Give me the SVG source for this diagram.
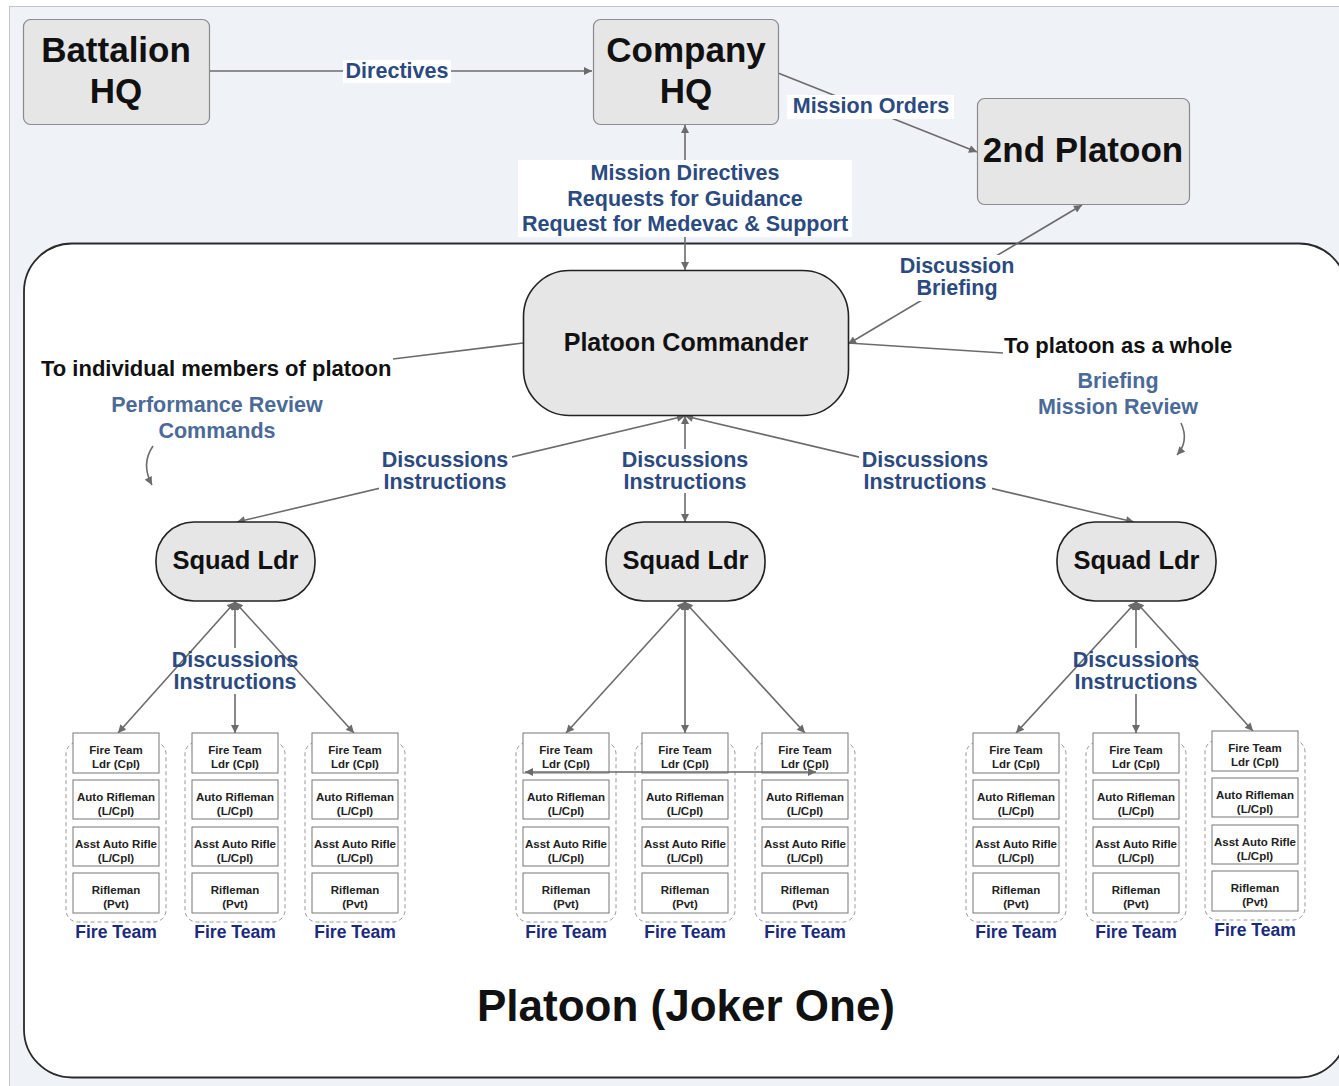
<svg xmlns="http://www.w3.org/2000/svg" width="1339" height="1086" viewBox="0 0 1339 1086">
  <defs>
    <marker id="arr" viewBox="0 0 10 10" refX="10" refY="5" markerWidth="10" markerHeight="8" markerUnits="userSpaceOnUse" orient="auto-start-reverse">
      <path d="M0,0 L10,5 L0,10 z" fill="#6b6b6b"/>
    </marker>
    <style>
      .conn { fill: none; stroke: #6b6b6b; stroke-width: 1.6; }
      .hq { fill: #e6e6e6; stroke: #8a8a8a; stroke-width: 1.2; }
      .core { fill: #e6e6e6; stroke: #222; stroke-width: 1.6; }
      .big { font-family: "Liberation Sans", Arial, sans-serif; font-weight: bold; fill: #111; text-anchor: middle; }
      .lbl { font-family: "Liberation Sans", Arial, sans-serif; font-weight: bold; font-size: 21.5px; fill: #2b4a7f; text-anchor: middle; }
      .lbl2 { font-family: "Liberation Sans", Arial, sans-serif; font-weight: bold; font-size: 21.5px; fill: #4b6a98; text-anchor: middle; }
      .note { font-family: "Liberation Sans", Arial, sans-serif; font-weight: bold; font-size: 22px; fill: #111; }
      .cell { fill: #fff; stroke: #777; stroke-width: 1; }
      .ct { font-family: "Liberation Sans", Arial, sans-serif; font-weight: bold; font-size: 11.5px; fill: #222; text-anchor: middle; }
      .ftbox { fill: none; stroke: #999; stroke-width: 1; stroke-dasharray: 4 3; }
      .ftl { font-family: "Liberation Sans", Arial, sans-serif; font-weight: bold; font-size: 17.5px; fill: #1b2a7e; text-anchor: middle; }
      .bg { fill: #ffffff; }
    </style>
    <!-- one fire team: four member cells inside a dashed outline -->
    <g id="fireteam">
      <rect class="ftbox" x="-50" y="742" width="100" height="180" rx="12"/>
      <rect class="cell" x="-43" y="733" width="86" height="40"/>
      <text class="ct" x="0" y="754">Fire Team</text>
      <text class="ct" x="0" y="768">Ldr (Cpl)</text>
      <rect class="cell" x="-43" y="780" width="86" height="39"/>
      <text class="ct" x="0" y="801">Auto Rifleman</text>
      <text class="ct" x="0" y="815">(L/Cpl)</text>
      <rect class="cell" x="-43" y="827" width="86" height="39"/>
      <text class="ct" x="0" y="848">Asst Auto Rifle</text>
      <text class="ct" x="0" y="862">(L/Cpl)</text>
      <rect class="cell" x="-43" y="873" width="86" height="40"/>
      <text class="ct" x="0" y="894">Rifleman</text>
      <text class="ct" x="0" y="908">(Pvt)</text>
      <text class="ftl" x="0" y="938">Fire Team</text>
    </g>
  </defs>

  <!-- page -->
  <rect x="0" y="0" width="1339" height="1086" fill="#ffffff"/>
  <rect x="9.5" y="6.5" width="1340" height="1090" fill="#eff3f8" stroke="#c2c6cc" stroke-width="1"/>

  <!-- platoon frame -->
  <g id="platoon-frame">
    <rect x="24" y="243.5" width="1323" height="834" rx="48" fill="#ffffff" stroke="#2a2a2a" stroke-width="1.8"/>
    <text class="big" x="686" y="1021" font-size="44">Platoon (Joker One)</text>
  </g>

  <!-- connectors -->
  <g id="connectors">
    <line class="conn" x1="209" y1="71" x2="592" y2="71" marker-end="url(#arr)"/>
    <line class="conn" x1="778" y1="73" x2="977" y2="152" marker-end="url(#arr)"/>
    <line class="conn" x1="685" y1="270" x2="685" y2="125" marker-start="url(#arr)" marker-end="url(#arr)"/>
    <line class="conn" x1="848" y1="344" x2="1082" y2="205" marker-start="url(#arr)" marker-end="url(#arr)"/>
    <line class="conn" x1="848" y1="343" x2="1003" y2="353"/>
    <line class="conn" x1="523" y1="343" x2="393" y2="359"/>
    <path class="conn" d="M1181,423 C1187,436 1185,446 1177,455" marker-end="url(#arr)"/>
    <path class="conn" d="M153,446 C144,459 145,472 152,485" marker-end="url(#arr)"/>
    <!-- commander to squad leaders -->
    <line class="conn" x1="685" y1="416" x2="237" y2="522" marker-start="url(#arr)" marker-end="url(#arr)"/>
    <line class="conn" x1="685" y1="416" x2="685" y2="522" marker-start="url(#arr)" marker-end="url(#arr)"/>
    <line class="conn" x1="685" y1="416" x2="1134" y2="522" marker-start="url(#arr)" marker-end="url(#arr)"/>
    <!-- squad leaders to fire teams -->
    <line class="conn" x1="235" y1="602" x2="118" y2="733" marker-start="url(#arr)" marker-end="url(#arr)"/>
    <line class="conn" x1="235" y1="602" x2="235" y2="733" marker-start="url(#arr)" marker-end="url(#arr)"/>
    <line class="conn" x1="235" y1="602" x2="354" y2="733" marker-start="url(#arr)" marker-end="url(#arr)"/>
    <line class="conn" x1="685" y1="602" x2="566" y2="733" marker-start="url(#arr)" marker-end="url(#arr)"/>
    <line class="conn" x1="685" y1="602" x2="685" y2="733" marker-start="url(#arr)" marker-end="url(#arr)"/>
    <line class="conn" x1="685" y1="602" x2="805" y2="733" marker-start="url(#arr)" marker-end="url(#arr)"/>
    <line class="conn" x1="1136" y1="602" x2="1016" y2="733" marker-start="url(#arr)" marker-end="url(#arr)"/>
    <line class="conn" x1="1136" y1="602" x2="1136" y2="733" marker-start="url(#arr)" marker-end="url(#arr)"/>
    <line class="conn" x1="1136" y1="602" x2="1253" y2="731" marker-start="url(#arr)" marker-end="url(#arr)"/>
  </g>

  <!-- connector labels -->
  <g id="labels">
    <rect class="bg" x="343" y="60" width="108" height="23" fill="#fcfdff"/>
    <text class="lbl" x="397" y="78">Directives</text>
    <rect class="bg" x="787" y="95" width="167" height="24"/>
    <text class="lbl" x="871" y="113">Mission Orders</text>
    <rect class="bg" x="518" y="160" width="334" height="77"/>
    <text class="lbl" x="685" y="180">Mission Directives</text>
    <text class="lbl" x="685" y="206">Requests for Guidance</text>
    <text class="lbl" x="685" y="231">Request for Medevac &amp; Support</text>
    <rect class="bg" x="897" y="255" width="121" height="46"/>
    <text class="lbl" x="957" y="273">Discussion</text>
    <text class="lbl" x="957" y="295">Briefing</text>
    <text class="note" x="1004" y="353">To platoon as a whole</text>
    <text class="lbl2" x="1118" y="388">Briefing</text>
    <text class="lbl2" x="1118" y="414">Mission Review</text>
    <text class="note" x="41" y="376">To individual members of platoon</text>
    <text class="lbl2" x="217" y="412">Performance Review</text>
    <text class="lbl2" x="217" y="438">Commands</text>
    <rect class="bg" x="379" y="449" width="133" height="44"/>
    <text class="lbl" x="445" y="467">Discussions</text>
    <text class="lbl" x="445" y="489">Instructions</text>
    <rect class="bg" x="619" y="449" width="133" height="44"/>
    <text class="lbl" x="685" y="467">Discussions</text>
    <text class="lbl" x="685" y="489">Instructions</text>
    <rect class="bg" x="859" y="449" width="133" height="44"/>
    <text class="lbl" x="925" y="467">Discussions</text>
    <text class="lbl" x="925" y="489">Instructions</text>
    <rect class="bg" x="226" y="648" width="18" height="46"/>
    <text class="lbl" x="235" y="667">Discussions</text>
    <text class="lbl" x="235" y="689">Instructions</text>
    <rect class="bg" x="1127" y="648" width="18" height="46"/>
    <text class="lbl" x="1136" y="667">Discussions</text>
    <text class="lbl" x="1136" y="689">Instructions</text>
  </g>

  <!-- headquarters -->
  <g id="battalion-hq">
    <rect class="hq" x="23.5" y="19.5" width="186" height="105" rx="7"/>
    <text class="big" x="116" y="62" font-size="35">Battalion</text>
    <text class="big" x="116" y="103" font-size="35">HQ</text>
  </g>
  <g id="company-hq">
    <rect class="hq" x="593.5" y="19.5" width="185" height="105" rx="7"/>
    <text class="big" x="686" y="62" font-size="35">Company</text>
    <text class="big" x="686" y="103" font-size="35">HQ</text>
  </g>
  <g id="second-platoon">
    <rect class="hq" x="977.5" y="98.5" width="212" height="106" rx="7"/>
    <text class="big" x="1083" y="162" font-size="35">2nd Platoon</text>
  </g>

  <!-- command element -->
  <g id="platoon-commander">
    <rect class="core" x="523.5" y="270.5" width="325" height="145" rx="46"/>
    <text class="big" x="686" y="351" font-size="25">Platoon Commander</text>
  </g>
  <g id="squad-ldr-1">
    <rect class="core" x="156" y="522" width="159" height="79" rx="38"/>
    <text class="big" x="235.5" y="569" font-size="25.5">Squad Ldr</text>
  </g>
  <g id="squad-ldr-2">
    <rect class="core" x="606" y="522" width="159" height="79" rx="38"/>
    <text class="big" x="685.5" y="569" font-size="25.5">Squad Ldr</text>
  </g>
  <g id="squad-ldr-3">
    <rect class="core" x="1057" y="522" width="159" height="79" rx="38"/>
    <text class="big" x="1136.5" y="569" font-size="25.5">Squad Ldr</text>
  </g>

  <!-- fire teams -->
  <g id="ft-1-1"><use href="#fireteam" x="116" y="0"/></g>
  <g id="ft-1-2"><use href="#fireteam" x="235" y="0"/></g>
  <g id="ft-1-3"><use href="#fireteam" x="355" y="0"/></g>
  <g id="ft-2-1"><use href="#fireteam" x="566" y="0"/></g>
  <g id="ft-2-2"><use href="#fireteam" x="685" y="0"/></g>
  <g id="ft-2-3"><use href="#fireteam" x="805" y="0"/></g>
  <g id="ft-3-1"><use href="#fireteam" x="1016" y="0"/></g>
  <g id="ft-3-2"><use href="#fireteam" x="1136" y="0"/></g>
  <g id="ft-3-3"><use href="#fireteam" x="1255" y="-2"/></g>

  <!-- link between fire team leaders of the second squad -->
  <g id="ft-leader-link">
    <line class="conn" x1="525" y1="772" x2="816" y2="772" marker-start="url(#arr)" marker-end="url(#arr)"/>
  </g>
</svg>
